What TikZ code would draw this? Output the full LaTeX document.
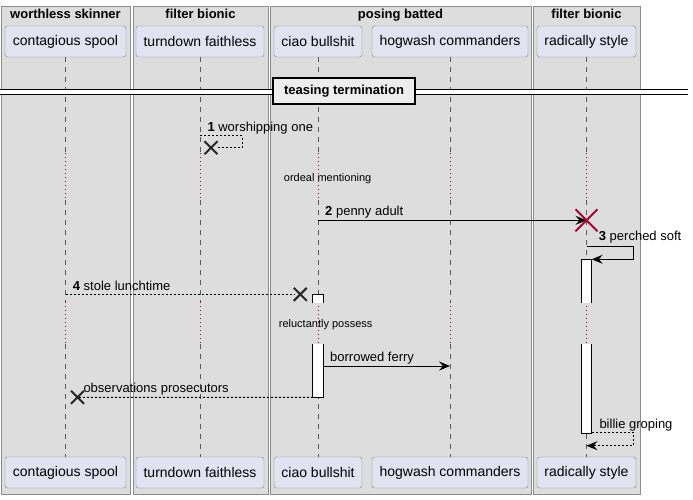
\documentclass[tikz,border=0pt]{standalone}
\usepackage{fontspec}
\setmainfont{Liberation Sans}
\usetikzlibrary{arrows.meta,positioning,shapes.misc}

\definecolor{boxgrey}{HTML}{DDDDDD}
\definecolor{boxline}{HTML}{8C8C8C}
\definecolor{partfill}{HTML}{E2E2F0}
\definecolor{partline}{HTML}{80809A}
\definecolor{delayred}{HTML}{A80036}

\begin{document}
\begin{tikzpicture}[
		x=1pt,y=-1pt,
		groupbox/.style={draw=boxline,fill=boxgrey,line width=1pt},
		grouptitle/.style={anchor=base,inner sep=0pt,font=\fontsize{13}{15}\selectfont\bfseries},
		part/.style={draw=partline,fill=partfill,rounded corners=2.5pt,minimum height=31pt,inner sep=0pt,font=\fontsize{14}{16}\selectfont},
		lifeline/.style={draw=black!65,dash pattern=on 5pt off 5pt,line width=0.8pt},
		delayline/.style={draw=delayred,dash pattern=on 1pt off 3pt,line width=0.9pt},
		actbar/.style={fill=white,minimum width=10pt,inner sep=0pt,anchor=north},
		msgtext/.style={anchor=base west,inner sep=0pt,font=\fontsize{13}{15}\selectfont},
		delaytext/.style={anchor=base west,inner sep=0pt,font=\fontsize{11}{13}\selectfont},
		msg/.style={line width=0.9pt,-{Stealth[length=11pt,width=9pt,inset=4pt]}},
		retmsg/.style={msg,dash pattern=on 2pt off 2pt},
		lostline/.style={line width=0.9pt,dash pattern=on 2pt off 2pt},
		lostx/.style={cross out,draw=black!85,line width=2pt,minimum size=11pt,inner sep=0pt},
		killx/.style={cross out,draw=delayred,line width=2pt,minimum size=20pt,inner sep=0pt}
	]
	\useasboundingbox (0,0) rectangle (693,499);

	% groups
	\draw[groupbox] (1,6) rectangle (130,494);
	\draw[groupbox] (133,6) rectangle (268,494);
	\draw[groupbox] (270,6) rectangle (531,494);
	\draw[groupbox] (533,6) rectangle (640,494);
	\node[grouptitle] (gws) at (65.5,18.5) {worthless skinner};
	\node[grouptitle] (gfb) at (200.5,18.5) {filter bionic};
	\node[grouptitle] (gpb) at (400.5,18.5) {posing batted};
	\node[grouptitle] (gfb2) at (586.5,18.5) {filter bionic};

	% participants
	\foreach \p/\x/\w/\t in {cs/65.5/121/contagious spool,tf/200/128/turndown faithless,cb/318/88/ciao bullshit,hc/450/156/hogwash commanders,rs/586.5/99/radically style}{
		\node[part,minimum width=\w pt] (\p) at (\x,41.5) {\t};
		\node[part,minimum width=\w pt] (\p2) at (\x,472.5) {\t};
	}

	% lifelines
	\foreach \p in {cs,tf,cb,hc,rs}{
		\draw[lifeline] (\p.south) -- (\p |- 0,153);
		\draw[delayline] (\p |- 0,153) -- (\p |- 0,200);
		\draw[lifeline] (\p |- 0,200) -- (\p |- 0,302);
		\draw[delayline] (\p |- 0,302) -- (\p |- 0,344);
		\draw[lifeline] (\p |- 0,344) -- (\p2.north);
	}

	% divider
	\draw[double,double distance=3.5pt,line width=0.9pt] (0,92) -- (688,92);
	\node[draw,fill=black!7,line width=1.6pt,minimum width=142pt,minimum height=26pt,inner sep=0pt,font=\fontsize{13}{15}\selectfont\bfseries] (term) at (344,91) {teasing termination};

	% activations
	\node[actbar,minimum height=8pt] (cbact1) at (cb |- 0,294.3) {};
	\node[actbar,minimum height=53pt] (cbact2) at (cb |- 0,344) {};
	\node[actbar,minimum height=43.4pt] (rsact1) at (rs |- 0,259.3) {};
	\node[actbar,minimum height=89.3pt] (rsact2) at (rs |- 0,344) {};
	\draw[line width=0.9pt] (cbact1.south west) |- (cbact1.north east) -- (cbact1.south east);
	\draw[line width=0.9pt] (cbact2.north west) |- (cbact2.south east) -- (cbact2.north east);
	\draw[line width=0.9pt] (rsact1.south west) |- (rsact1.north east) -- (rsact1.south east);
	\draw[line width=0.9pt] (rsact2.north west) |- (rsact2.south east) -- (rsact2.north east);

	% 1
	\node[msgtext] (m1) at (207.3,131) {\textbf{1} worshipping one};
	\node[lostx] (x1) at (211,147.7) {};
	\draw[lostline] (tf |- 0,135.5) -- ++(42,0) |- (x1.east);
	\node[delaytext] (d1) at (283.7,181.7) {ordeal mentioning};

	% 2
	\node[msgtext] (m2) at (325,215) {\textbf{2} penny adult};
	\coordinate (kill) at (rs |- 0,220.3);
	\draw[msg] (cb |- 0,220.3) -- (kill);
	\node[killx] (rsx) at (kill) {};

	% 3
	\node[msgtext] (m3) at (598.7,240.5) {\textbf{3} perched soft};
	\draw[msg] (rs |- 0,246.7) -- ++(47,0) |- (rsact1.north east);

	% 4
	\node[msgtext] (m4) at (72.7,290) {\textbf{4} stole lunchtime};
	\node[lostx] (x4) at (300.3,294.3) {};
	\draw[lostline] (cs |- 0,294.3) -- (x4.west);
	\node[delaytext] (d2) at (278.7,327.7) {reluctantly possess};

	% replies
	\node[msgtext] (m5) at (330,361.7) {borrowed ferry};
	\draw[msg] (cbact2.east |- 0,366) -- (hc |- 0,366);
	\node[msgtext] (m6) at (83.3,392) {observations prosecutors};
	\node[lostx] (x6) at (77.5,397.3) {};
	\draw[lostline] (cbact2.south west) -- (x6.center);
	\node[msgtext] (m7) at (599.3,428) {billie groping};
	\draw[retmsg] (rsact2.east |- 0,432.3) -- ++(41.5,0) |- (rs |- 0,445.7);
\end{tikzpicture}
\end{document}
